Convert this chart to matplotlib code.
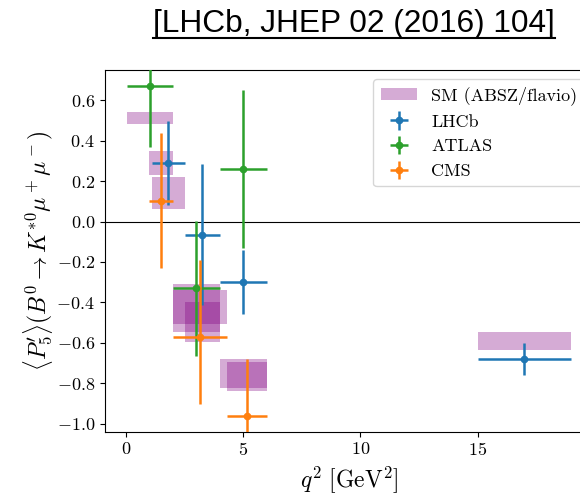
import numpy as np
import matplotlib
matplotlib.use('Agg')
import matplotlib.pyplot as plt
from matplotlib.lines import Line2D

plt.rcParams['font.family'] = 'serif'
plt.rcParams['font.serif'] = ['cmr10']
plt.rcParams['mathtext.fontset'] = 'cm'
plt.rcParams['axes.formatter.use_mathtext'] = True

# SM predictions: q2 bin edges and band limits
sm_qlo = [0.04, 1.0, 1.1, 2.0, 2.0, 2.5, 4.0, 4.3, 15.0]
sm_qhi = [2.0, 2.0, 2.5, 4.0, 4.3, 4.0, 6.0, 6.0, 19.0]
sm_ylo = [0.484, 0.231, 0.063, -0.545, -0.509, -0.595, -0.823, -0.838, -0.636]
sm_yhi = [0.540, 0.350, 0.220, -0.310, -0.339, -0.400, -0.682, -0.694, -0.545]

# measurements
lhcb_qlo = [1.1, 2.5, 4.0, 15.0]
lhcb_qhi = [2.5, 4.0, 6.0, 19.0]
lhcb_val = [0.29, -0.065, -0.30, -0.68]
lhcb_elo = [0.21, 0.35, 0.157, 0.08]
lhcb_ehi = [0.21, 0.35, 0.157, 0.08]

atlas_qlo = [0.04, 2.0, 4.0]
atlas_qhi = [2.0, 4.0, 6.0]
atlas_val = [0.67, -0.33, 0.26]
atlas_elo = [0.30, 0.335, 0.39]
atlas_ehi = [0.30, 0.335, 0.39]

cms_qlo = [1.0, 2.0, 4.3]
cms_qhi = [2.0, 4.3, 6.0]
cms_val = [0.10, -0.57, -0.96]
cms_elo = [0.33, 0.335, 0.30]
cms_ehi = [0.34, 0.38, 0.28]


def plot_exp(ax, qlo, qhi, val, elo, ehi, color, label):
    qlo = np.array(qlo)
    qhi = np.array(qhi)
    xc = (qlo + qhi) / 2
    ax.errorbar(xc, val, xerr=(qhi - qlo) / 2, yerr=[elo, ehi], fmt='o',
                ms=4.5, lw=1.8, capsize=0, color=color, label=label, zorder=3)


fig = plt.figure(figsize=(5.8, 4.96), dpi=100)
ax = fig.add_axes([0.1805, 0.1296, 0.8429, 0.7292])

sm_qlo_a = np.array(sm_qlo)
sm_ylo_a = np.array(sm_ylo)
ax.bar(sm_qlo_a, np.array(sm_yhi) - sm_ylo_a, width=np.array(sm_qhi) - sm_qlo_a,
       bottom=sm_ylo_a, align='edge', color='purple', alpha=0.33, lw=0,
       label='SM (ABSZ/flavio)', zorder=1)

plot_exp(ax, lhcb_qlo, lhcb_qhi, lhcb_val, lhcb_elo, lhcb_ehi, 'C0', 'LHCb')
plot_exp(ax, atlas_qlo, atlas_qhi, atlas_val, atlas_elo, atlas_ehi, 'C2', 'ATLAS')
plot_exp(ax, cms_qlo, cms_qhi, cms_val, cms_elo, cms_ehi, 'C1', 'CMS')

ax.axhline(0, color='k', lw=0.8, zorder=2)
ax.set_xlim(-0.908, 19.948)
ax.set_ylim(-1.04, 0.75)
ax.set_xticks([0, 5, 10, 15])
ax.set_yticks(np.arange(-1.0, 0.61, 0.2))
ax.tick_params(labelsize=13)
ax.set_xlabel(r'$q^2\ [\mathrm{GeV}^2]$', fontsize=17)
ax.set_ylabel(r"$\langle P_5'\rangle(B^0\to K^{*0}\mu^+\mu^-)$", fontsize=17, labelpad=1)

ax.legend(loc='upper right', fontsize=13)

t = fig.text(0.61, 0.952, '[LHCb, JHEP 02 (2016) 104]', family='Liberation Sans',
             fontsize=22.8, ha='center', va='center')
fig.canvas.draw()
bb = t.get_window_extent().transformed(fig.transFigure.inverted())
fig.add_artist(Line2D([bb.x0, bb.x1], [bb.y0 + 0.002, bb.y0 + 0.002],
                      color='k', lw=1.5, transform=fig.transFigure))

fig.savefig('out.png', dpi=100)
